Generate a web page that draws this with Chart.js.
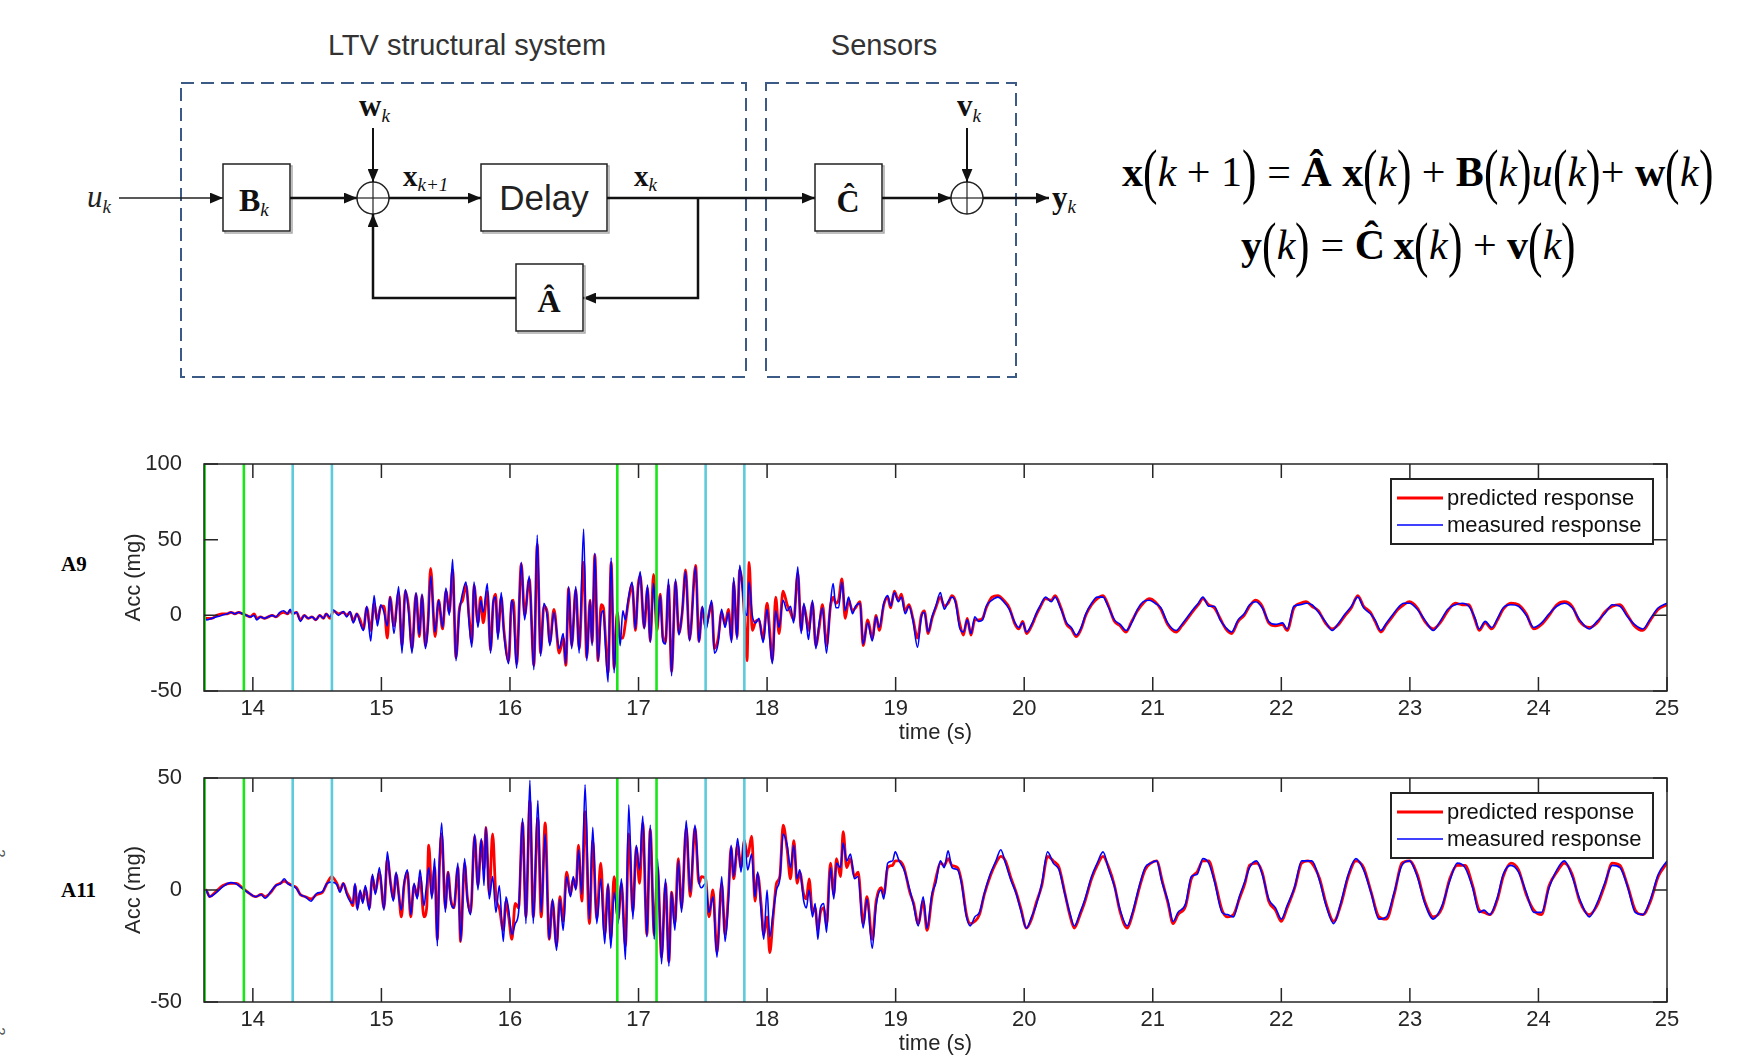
<!DOCTYPE html>
<html>
<head>
<meta charset="utf-8">
<script src="https://cdn.jsdelivr.net/npm/chart.js@4.4.1/dist/chart.umd.min.js"></script>
<style>
  body { margin: 0; background: #fff; width: 1750px; height: 1059px; position: relative; overflow: hidden; }
  canvas { position: absolute; left: 0; }
  .eq { position: absolute; font-family: 'Liberation Serif', 'Times New Roman', serif; font-size: 42px; white-space: nowrap; line-height: 60px; color: #000; }
  .eq .p { font-size: 62px; display: inline-block; transform: scaleX(0.7); vertical-align: -6px; margin: 0 -3px; }
  .row { position: absolute; font-family: 'Liberation Serif', 'Times New Roman', serif; font-weight: bold; font-size: 21px; }
  .stray { position: absolute; font-family: 'Liberation Sans', Arial, sans-serif; font-size: 15px; color: #555; transform: rotate(90deg); }
</style>
</head>
<body>

<svg width="1750" height="400" style="position:absolute;left:0;top:0" font-family="'Liberation Serif','Times New Roman',serif">
  <defs>
    <marker id="ah" viewBox="0 0 12 10" refX="12" refY="5" markerWidth="13" markerHeight="11" orient="auto" markerUnits="userSpaceOnUse">
      <path d="M0,0 L12,5 L0,10 z" fill="#111"/>
    </marker>
  </defs>
  <text x="467" y="55" text-anchor="middle" font-family="'Liberation Sans',Arial,sans-serif" font-size="29" fill="#333">LTV structural system</text>
  <text x="884" y="55" text-anchor="middle" font-family="'Liberation Sans',Arial,sans-serif" font-size="29" fill="#333">Sensors</text>

  <rect x="181" y="83" width="565" height="294" fill="none" stroke="#3b5a85" stroke-width="2" stroke-dasharray="13 7"/>
  <rect x="766" y="83" width="250" height="294" fill="none" stroke="#3b5a85" stroke-width="2" stroke-dasharray="13 7"/>

  <!-- u_k into B_k -->
  <text x="87" y="207" font-size="31" font-style="italic" fill="#222">u<tspan font-size="19" dy="6">k</tspan></text>
  <line x1="119" y1="198" x2="223" y2="198" stroke="#222" stroke-width="1.5" marker-end="url(#ah)"/>
  <rect x="225" y="166" width="67" height="67" fill="none" stroke="#aaa" stroke-width="1.5"/>
  <rect x="223" y="164" width="67" height="67" fill="#fff" stroke="#222" stroke-width="1.5"/>
  <text x="239" y="211" font-size="32" font-weight="bold" fill="#111">B<tspan font-size="19" font-weight="normal" font-style="italic" dy="5">k</tspan></text>
  <line x1="290" y1="198" x2="357" y2="198" stroke="#111" stroke-width="2.5" marker-end="url(#ah)"/>

  <!-- first summing junction -->
  <circle cx="373" cy="198" r="16" fill="#fff" stroke="#222" stroke-width="1.5"/>
  <line x1="373" y1="182" x2="373" y2="214" stroke="#222" stroke-width="1.2"/>
  <line x1="357" y1="198" x2="389" y2="198" stroke="#222" stroke-width="1.2"/>
  <text x="359" y="116" font-size="31" font-weight="bold" fill="#111">w<tspan font-size="19" font-weight="normal" font-style="italic" dy="6">k</tspan></text>
  <line x1="373" y1="128" x2="373" y2="182" stroke="#111" stroke-width="2" marker-end="url(#ah)"/>
  <text x="403" y="186" font-size="29" font-weight="bold" fill="#111">x<tspan font-size="19" font-weight="normal" font-style="italic" dy="5">k+1</tspan></text>
  <line x1="389" y1="198" x2="481" y2="198" stroke="#111" stroke-width="2.5" marker-end="url(#ah)"/>

  <!-- delay -->
  <rect x="483" y="166" width="126" height="67" fill="none" stroke="#aaa" stroke-width="1.5"/>
  <rect x="481" y="164" width="126" height="67" fill="#fff" stroke="#222" stroke-width="1.5"/>
  <text x="544" y="210" text-anchor="middle" font-family="'Liberation Sans',Arial,sans-serif" font-size="35" fill="#222">Delay</text>
  <text x="634" y="186" font-size="29" font-weight="bold" fill="#111">x<tspan font-size="19" font-weight="normal" font-style="italic" dy="5">k</tspan></text>
  <line x1="607" y1="198" x2="815" y2="198" stroke="#111" stroke-width="2.5" marker-end="url(#ah)"/>

  <!-- feedback through A -->
  <polyline points="698,198 698,298 583,298" fill="none" stroke="#111" stroke-width="2.5" marker-end="url(#ah)"/>
  <rect x="518" y="266" width="67" height="67" fill="none" stroke="#aaa" stroke-width="1.5"/>
  <rect x="516" y="264" width="67" height="67" fill="#fff" stroke="#222" stroke-width="1.5"/>
  <text x="549" y="312" text-anchor="middle" font-size="32" font-weight="bold" fill="#111">Â</text>
  <polyline points="516,298 373,298 373,214" fill="none" stroke="#111" stroke-width="2.5" marker-end="url(#ah)"/>

  <!-- sensors -->
  <rect x="817" y="166" width="67" height="67" fill="none" stroke="#aaa" stroke-width="1.5"/>
  <rect x="815" y="164" width="67" height="67" fill="#fff" stroke="#222" stroke-width="1.5"/>
  <text x="848" y="212" text-anchor="middle" font-size="32" font-weight="bold" fill="#111">Ĉ</text>
  <line x1="882" y1="198" x2="951" y2="198" stroke="#111" stroke-width="2.5" marker-end="url(#ah)"/>
  <circle cx="967" cy="198" r="16" fill="#fff" stroke="#222" stroke-width="1.5"/>
  <line x1="967" y1="182" x2="967" y2="214" stroke="#222" stroke-width="1.2"/>
  <line x1="951" y1="198" x2="983" y2="198" stroke="#222" stroke-width="1.2"/>
  <text x="957" y="116" font-size="31" font-weight="bold" fill="#111">v<tspan font-size="19" font-weight="normal" font-style="italic" dy="6">k</tspan></text>
  <line x1="967" y1="128" x2="967" y2="182" stroke="#111" stroke-width="2" marker-end="url(#ah)"/>
  <line x1="983" y1="198" x2="1049" y2="198" stroke="#111" stroke-width="2.5" marker-end="url(#ah)"/>
  <text x="1052" y="208" font-size="31" font-weight="bold" fill="#111">y<tspan font-size="19" font-weight="normal" font-style="italic" dy="5">k</tspan></text>
</svg>

<div class="eq" style="left:1122px;top:141px"><b>x</b><span class="p">(</span><i>k</i> + 1<span class="p">)</span> = <b>Â</b> <b>x</b><span class="p">(</span><i>k</i><span class="p">)</span> + <b>B</b><span class="p">(</span><i>k</i><span class="p">)</span><i>u</i><span class="p">(</span><i>k</i><span class="p">)</span>+ <b>w</b><span class="p">(</span><i>k</i><span class="p">)</span></div>
<div class="eq" style="left:1241px;top:214px"><b>y</b><span class="p">(</span><i>k</i><span class="p">)</span> = <b>Ĉ</b>&#8201;<b>x</b><span class="p">(</span><i>k</i><span class="p">)</span> + <b>v</b><span class="p">(</span><i>k</i><span class="p">)</span></div>

<div class="row" style="left:61px;top:552px">A9</div>
<div class="row" style="left:61px;top:878px">A11</div>
<div class="stray" style="left:-4px;top:845px">2</div>
<div class="stray" style="left:-4px;top:1023px">2</div>

<canvas id="chartA9" width="1700" height="298" style="top:450px"></canvas>
<canvas id="chartA11" width="1700" height="295" style="top:764px"></canvas>

<script>
// ---- data ----
const xTickValues = [14, 15, 16, 17, 18, 19, 20, 21, 22, 23, 24, 25]
const greenMarkers = [13.625, 13.93, 16.835, 17.14]
const cyanMarkers = [14.31, 14.615, 17.522, 17.823]
const seriesNames = ['predicted response', 'measured response']

const a9YTicks = [-50, 0, 50, 100]
const a9Time = [
  13.62, 13.64, 13.68, 13.72, 13.76, 13.80, 13.83, 13.86, 13.89, 13.92,
  13.95, 13.98, 14.01, 14.03, 14.06, 14.09, 14.12, 14.15, 14.18, 14.21,
  14.24, 14.27, 14.29, 14.31, 14.34, 14.37, 14.40, 14.43, 14.46, 14.49,
  14.52, 14.55, 14.57, 14.60, 14.627, 14.665, 14.704, 14.73, 14.756, 14.782,
  14.808, 14.834, 14.86, 14.886, 14.917, 14.943, 14.969, 14.995, 15.02, 15.046,
  15.067, 15.098, 15.134, 15.16, 15.186, 15.212, 15.238, 15.269, 15.295, 15.316,
  15.342, 15.362, 15.383, 15.417, 15.445, 15.476, 15.502, 15.528, 15.554, 15.58,
  15.606, 15.632, 15.658, 15.684, 15.704, 15.72, 15.751, 15.772, 15.792, 15.824,
  15.849, 15.87, 15.888, 15.906, 15.932, 15.953, 15.99, 16.01, 16.026, 16.052,
  16.088, 16.114, 16.15, 16.186, 16.212, 16.238, 16.264, 16.29, 16.31, 16.342,
  16.383, 16.414, 16.435, 16.456, 16.48, 16.512, 16.538, 16.573, 16.597, 16.623,
  16.639, 16.66, 16.685, 16.709, 16.727, 16.743, 16.763, 16.787, 16.81, 16.834,
  16.857, 16.878, 16.898, 16.919, 16.95, 16.976, 16.997, 17.013, 17.044, 17.07,
  17.091, 17.117, 17.143, 17.169, 17.189, 17.21, 17.233, 17.257, 17.288, 17.314,
  17.34, 17.366, 17.397, 17.444, 17.47, 17.496, 17.522, 17.543, 17.569, 17.59,
  17.62, 17.646, 17.673, 17.699, 17.724, 17.74, 17.766, 17.787, 17.808, 17.823,
  17.844, 17.86, 17.885, 17.911, 17.937, 17.969, 18.0, 18.02, 18.041, 18.067,
  18.093, 18.124, 18.156, 18.182, 18.207, 18.239, 18.265, 18.286, 18.306, 18.322,
  18.353, 18.379, 18.405, 18.431, 18.462, 18.493, 18.514, 18.535, 18.556, 18.582,
  18.608, 18.634, 18.664, 18.688, 18.723, 18.747, 18.783, 18.818, 18.848, 18.872,
  18.908, 18.938, 18.961, 18.99, 19.021, 19.045, 19.074, 19.104, 19.134, 19.17,
  19.2, 19.223, 19.253, 19.283, 19.312, 19.348, 19.378, 19.408, 19.438, 19.467,
  19.497, 19.527, 19.557, 19.586, 19.616, 19.646, 19.676, 19.705, 19.75, 19.795,
  19.84, 19.884, 19.929, 19.958, 19.988, 20.018, 20.063, 20.092, 20.122, 20.167,
  20.211, 20.24, 20.286, 20.33, 20.366, 20.405, 20.443, 20.479, 20.524, 20.568,
  20.613, 20.652, 20.702, 20.747, 20.792, 20.836, 20.881, 20.926, 20.973, 21.018,
  21.063, 21.116, 21.182, 21.226, 21.271, 21.315, 21.354, 21.39, 21.435, 21.479,
  21.524, 21.568, 21.613, 21.664, 21.711, 21.753, 21.801, 21.851, 21.902, 21.955,
  22.009, 22.045, 22.098, 22.149, 22.193, 22.238, 22.289, 22.342, 22.396, 22.446,
  22.497, 22.545, 22.595, 22.64, 22.693, 22.729, 22.774, 22.818, 22.863, 22.908,
  22.952, 22.997, 23.057, 23.116, 23.182, 23.235, 23.295, 23.354, 23.408, 23.458,
  23.503, 23.539, 23.586, 23.637, 23.682, 23.726, 23.786, 23.845, 23.905, 23.964,
  24.024, 24.083, 24.143, 24.202, 24.262, 24.321, 24.396, 24.455, 24.515, 24.574,
  24.634, 24.693, 24.747, 24.812, 24.872, 24.932, 25.0
]
const a9Measured = [
  -1, -3, -2, -1, 0, 1, 2, 1, 2, 1,
  0, -1, 0, -3, -1, -2, -1, 0, -1, 2,
  3, 1, 4, 1, 2, -4, 0, -2, -1, -3,
  0, -2, 1, -1, 3.5, 0, 2.5, -1, 2.5, -5,
  1, -5, -10, 6, -17, 13, -7, 7, 2, -7,
  12, -12, 19, -25, 17, 2, -25, 15, -13, 14,
  -22, -8, 26, -11, 10, -8, 18, 0, 37, -30,
  2, 15, 22, -7, -21, 22, -8, 10, 2, 21,
  -25, 9, 12, -16, 15, -12, -32, 10, 5, -35,
  35, -3, 26, -36, 53, -27, 8, -1, -20, 2,
  -22, -12, -32, 19, -22, 19, -25, 57, -30, 10,
  -20, 41, -30, 0, 3, -20, -44, 38, -38, 4,
  -20, 3, -3, 10, 22, -9, 18, 29, -9, 20,
  -18, 21, -9, 13, -17, -19, 24, -40, 24, -13,
  3, 29, -17, 32, -18, 6, -10, -2, 10, -25,
  -18, 4, -8, 2, -18, 25, -16, 33, 18, 5,
  0, 22, 0, -5, -2, -18, 4, -15, -32, 3,
  -8, 10, 3, 6, -5, 32, -12, 8, -5, -16,
  10, -22, -5, 5, -25, 8, 21, 5, 5, 22,
  3, 12, 1, 6, 8, -19, -5, -17, -1, -8,
  8, 13, 6, 15, 9, 12, 1, 6, -3, -21,
  -1, 2, -11, -1, 6, 15, 4, 9, 12, 8,
  -8, -11, -3, -12, -1, -4, -3, 6, 10, 12,
  9, 4, -5, -8, -5, -11, -5, 1, 6, 12,
  9, 12, 4, -5, -8, -13, -8, 1, 8, 12,
  12, 6, -3, -6, -10, -5, 4, 9, 10, 8,
  5, -5, -10, -6, -1, 4, 8, 12, 6, 6,
  -3, -8, -11, -3, 1, 7, 9, 5, -4, -6,
  -5, -9, 6, 7, 8, 7, 2, -4, -10, -5,
  1, 6, 12, 5, 1, -3, -10, -5, 0, 5,
  8, 8, 4, -3, -10, -4, 4, 7, 8, 6,
  -1, -9, -4, -8, -2, 5, 7, 6, 0, -8,
  -5, 1, 6, 8, 5, -3, -9, -4, 1, 7,
  6, -1, -6, -9, -2, 5, 8
]
const a9Predicted = [
  -1, -2, -2, 0, 1, 1, 2, 1, 2, 1,
  0, -1, 1, -2, -1, -2, -1, 0, -1, 1,
  2, 1, 3, 1, 2, -3, 0, -2, -1, -3,
  0, -2, 1, -2, 3, 1, 2, 0, 2, -4,
  1, -3, -9, 5, -10, 8, -4, 6, 6, -15,
  12, -7, 15, -20, 16, 5, -22, 14, -14, 13,
  -20, -5, 31, -14, 10, -9, 16, 2, 30, -28,
  4, 10, 20, -3, -18, 20, -5, 12, -5, 16,
  -23, 8, 14, -12, 12, -10, -30, 5, 10, -32,
  34, 0, 24, -33, 47, -25, 6, 2, -18, 4,
  -25, -15, -33, 18, -20, 17, -22, 35, -28, 10,
  -18, 40, -30, 7, 5, -15, -38, 35, -35, 2,
  -15, -15, -5, 8, 20, -10, 20, 26, -8, 18,
  -17, 27, -10, 14, -14, -18, 20, -37, 22, -12,
  2, 30, -16, 33, -17, 5, -8, -1, 8, -22,
  -15, 2, -6, 4, -16, 22, -14, 30, 20, 0,
  -30, 35, -10, -4, -3, -16, 8, -10, -30, 12,
  -12, 16, 7, 2, -3, 28, -10, 6, -2, -10,
  8, -20, -8, 7, -20, 6, 12, 8, 10, 24,
  -2, 10, 3, 5, 9, -20, -3, -15, 0, -10,
  7, 12, 5, 16, 10, 14, 3, 7, -2, -15,
  0, 3, -12, -2, 5, 12, 6, 8, 13, 9,
  -5, -13, -2, -13, -3, -3, -2, 5, 12, 13,
  10, 5, -6, -9, -4, -12, -6, 0, 5, 11,
  10, 13, 5, -6, -9, -14, -9, 0, 7, 11,
  13, 7, -4, -7, -11, -4, 3, 8, 11, 9,
  4, -6, -11, -7, -2, 3, 7, 11, 7, 5,
  -2, -9, -12, -4, 0, 6, 10, 6, -5, -7,
  -6, -10, 5, 8, 9, 6, 3, -5, -9, -6,
  0, 5, 13, 6, 2, -4, -11, -6, -1, 4,
  7, 9, 5, -4, -9, -5, 3, 8, 7, 7,
  -2, -10, -5, -9, -3, 4, 8, 7, 1, -9,
  -6, 0, 7, 9, 6, -4, -8, -5, 2, 6,
  7, 0, -7, -10, -3, 4, 7
]

const a11YTicks = [-50, 0, 50]
const a11Time = [
  13.62, 13.634, 13.664, 13.708, 13.768, 13.827, 13.872, 13.917, 13.961, 14.021,
  14.065, 14.095, 14.14, 14.179, 14.214, 14.244, 14.274, 14.304, 14.339, 14.369,
  14.408, 14.452, 14.497, 14.542, 14.577, 14.614, 14.653, 14.678, 14.704, 14.73,
  14.756, 14.777, 14.795, 14.813, 14.834, 14.855, 14.875, 14.906, 14.93, 14.953,
  14.984, 15.02, 15.046, 15.072, 15.093, 15.114, 15.134, 15.155, 15.176, 15.202,
  15.228, 15.254, 15.279, 15.3, 15.331, 15.352, 15.368, 15.393, 15.414, 15.435,
  15.451, 15.469, 15.497, 15.518, 15.539, 15.564, 15.595, 15.616, 15.647, 15.668,
  15.694, 15.725, 15.751, 15.777, 15.798, 15.813, 15.839, 15.865, 15.891, 15.917,
  15.948, 15.969, 15.99, 16.015, 16.041, 16.067, 16.098, 16.124, 16.155, 16.181,
  16.217, 16.243, 16.274, 16.305, 16.331, 16.362, 16.388, 16.414, 16.44, 16.471,
  16.492, 16.513, 16.533, 16.559, 16.584, 16.618, 16.644, 16.675, 16.706, 16.737,
  16.763, 16.784, 16.81, 16.841, 16.867, 16.898, 16.924, 16.956, 16.982, 17.008,
  17.033, 17.065, 17.091, 17.122, 17.148, 17.179, 17.21, 17.236, 17.257, 17.283,
  17.309, 17.335, 17.371, 17.402, 17.439, 17.47, 17.49, 17.522, 17.548, 17.579,
  17.61, 17.647, 17.673, 17.699, 17.72, 17.74, 17.771, 17.797, 17.823, 17.849,
  17.88, 17.906, 17.927, 17.953, 17.974, 18.0, 18.021, 18.047, 18.073, 18.099,
  18.125, 18.156, 18.182, 18.208, 18.234, 18.254, 18.285, 18.306, 18.327, 18.353,
  18.374, 18.395, 18.415, 18.441, 18.462, 18.493, 18.519, 18.54, 18.571, 18.592,
  18.619, 18.649, 18.679, 18.708, 18.747, 18.777, 18.818, 18.848, 18.887, 18.908,
  18.938, 18.976, 18.997, 19.027, 19.065, 19.11, 19.14, 19.176, 19.214, 19.244,
  19.283, 19.312, 19.348, 19.378, 19.408, 19.438, 19.482, 19.512, 19.551, 19.58,
  19.616, 19.652, 19.69, 19.735, 19.78, 19.818, 19.854, 19.899, 19.937, 19.973,
  20.018, 20.057, 20.092, 20.137, 20.182, 20.226, 20.271, 20.315, 20.354, 20.39,
  20.435, 20.473, 20.524, 20.568, 20.613, 20.658, 20.702, 20.747, 20.801, 20.842,
  20.896, 20.94, 20.985, 21.03, 21.074, 21.119, 21.158, 21.196, 21.256, 21.3,
  21.345, 21.39, 21.435, 21.479, 21.539, 21.583, 21.628, 21.673, 21.717, 21.753,
  21.807, 21.851, 21.902, 21.955, 22.0, 22.045, 22.104, 22.158, 22.208, 22.238,
  22.298, 22.348, 22.408, 22.461, 22.521, 22.58, 22.64, 22.699, 22.759, 22.818,
  22.878, 22.938, 22.997, 23.057, 23.116, 23.182, 23.25, 23.31, 23.369, 23.429,
  23.488, 23.539, 23.577, 23.622, 23.682, 23.726, 23.786, 23.845, 23.905, 23.964,
  24.024, 24.083, 24.143, 24.202, 24.262, 24.321, 24.396, 24.455, 24.515, 24.574,
  24.634, 24.693, 24.753, 24.812, 24.872, 24.932, 25.0
]
const a11Measured = [
  -1, 0, -3, -1.5, 1.5, 3.3, 2.7, 0.7, -1, -3,
  -2, -3.7, -0.7, 2, 2.7, 5, 2.7, 2, 0.7, -2,
  -3, -5, -1.5, -0.7, 3, 3.5, 2.5, -1, 3, -2,
  -5, -6, 3, -9, 0, -6, 2, -9, 7, -2,
  10, -9, 17, 2, -5, 8, -2, -9, 3, 9,
  -11, 3, -4, 9, -7, 3, 10, -4, 14, -25,
  12, 30, -10, 8, -5, -8, 12, -23, 14, -4,
  -11, 25, 0, 23, 2, 28, -4, 6, -10, 2,
  -23, -3, -9, -20, -15, -10, 32, -15, 49, -15,
  40, -10, 25, -22, -4, -27, -4, -18, 6, -3,
  6, 0, 18, -2, 47, -13, 28, -15, 5, -24,
  3, -26, -1, -15, 5, -31, 38, -13, 20, 9,
  33, -21, 29, -22, 14, -33, 5, -34, -1, -18,
  13, -10, 31, -1, 29, 4, 1, 3, -10, -3,
  -30, 6, -23, -5, 20, 6, 23, 8, 23, 9,
  16, -3, 8, -9, -22, 0, -21, -10, 0, 5,
  25, 20, 10, 20, 5, 9, -5, -8, 0, -12,
  -6, -22, -8, -6, -19, 10, -4, 12, 10, 21,
  13, 16, 5, 6, -17, -4, -26, -7, 0, -4,
  12, 13, 17, 13, 9, 0, -7, -16, -3, -17,
  -1.5, 3, 13, 10, 17.5, 10, 9, 3, -12, -16,
  -12, -10, -1.5, 7, 13, 18, 12, 4, -1.5, -9,
  -17, -12, -7, 3, 17, 12, 9, -1.5, -10, -16,
  -10, -4, 6, 12, 17, 9, 1.5, -9, -16, -10,
  2, 10, 12, 13, 3, -5, -14, -10, -6, 6,
  7, 14, 12, 4, -10, -11, -12, -3, 4, 10,
  13, 7, -4, -8, -13, -7, 1.5, 13, 13, 13,
  4, -7, -15, -6, 7, 14, 9, -1.5, -13, -12,
  -1, 11, 13, 6, -6, -13, -7, 4, 12, 10,
  1, -10, -9, -11, -3, 7, 11, 8, -1, -10,
  -10, 1, 9, 13, 6, -4, -12, -6, 3, 11,
  10, 1.5, -10, -11, -4, 7, 13
]
const a11Predicted = [
  -1, 0, -3, -1, 2, 3, 3, 1, -1, -3,
  -2, -3, -1, 2, 3, 4, 3, 2, 1, -2,
  -3, -4, -2, -1, 3, 6, 3, 0, 3, -1,
  -4, -7, 2, -8, -1, -5, 1, -8, 6, -1,
  8, -8, 14, 3, -4, 7, -1, -12, 2, 8,
  -12, 2, -3, 6, -12, -8, 20, -2, 10, -22,
  10, 25, -8, 8, -4, -8, 10, -23, 12, -3,
  -10, 24, 2, 22, 9, 28, -2, 25, -3, -8,
  -18, -5, -12, -22, -6, -8, 30, -12, 40, -12,
  32, -12, 30, -22, -5, -25, -3, -14, 8, -2,
  5, 1, 20, -5, 35, -15, 22, -13, 12, -20,
  2, -22, 6, -13, 3, -25, 25, -10, 19, 3,
  30, -20, 27, -20, 10, -30, 3, -32, -1, -15,
  14, -8, 28, -3, 28, 3, 6, 5, -12, 0,
  -28, 3, -20, -2, 19, 5, 20, 10, 22, 15,
  24, -5, 7, -6, -20, -12, -28, -12, 3, 6,
  29, 18, 5, 22, 3, 8, -2, -4, 5, -10,
  -8, -18, -10, -8, -16, 12, -2, 14, 6, 26,
  10, 14, 6, 8, -15, -3, -22, -5, 1, -2,
  10, 11, 13, 13, 10, -1, -6, -15, -5, -18,
  -3, 5, 12, 11, 14, 11, 10, 4, -11, -15,
  -14, -11, -2, 6, 12, 15, 13, 5, -1, -8,
  -17, -13, -6, 2, 15, 13, 10, -1, -11, -17,
  -11, -5, 5, 11, 15, 10, 2, -10, -17, -11,
  1, 9, 12, 13, 4, -6, -15, -11, -7, 5,
  8, 13, 13, 5, -9, -12, -11, -4, 3, 11,
  12, 8, -5, -9, -14, -8, 1, 12, 13, 12,
  5, -6, -14, -7, 6, 13, 10, -1, -12, -13,
  -2, 12, 13, 7, -5, -12, -8, 5, 11, 11,
  2, -9, -10, -11, -4, 6, 12, 9, -2, -9,
  -11, 2, 8, 12, 7, -5, -11, -7, 2, 12,
  11, 2, -9, -11, -5, 6, 12
]

// ---- drawing ----
const axisFont = { family: "'Liberation Sans', Arial, sans-serif", size: 22 }
const axisColor = '#262626'

function toPoints(times, values) {
  if (times.length !== values.length) console.warn('length mismatch', times.length, values.length)
  return times.map((t, i) => ({ x: t, y: values[i] }))
}

function markerDataset(t, color, yMin, yMax) {
  return {
    data: [{ x: t, y: yMin }, { x: t, y: yMax }],
    borderColor: color,
    borderWidth: 2.6,
    pointRadius: 0,
    tension: 0,
    order: 0
  }
}

// box + inward ticks like the original plot
const frameTicks = {
  id: 'frameTicks',
  afterDraw(chart) {
    const { ctx, chartArea: a, scales } = chart
    const len = 14
    ctx.save()
    ctx.strokeStyle = axisColor
    ctx.lineWidth = 1.5
    ctx.beginPath()
    xTickValues.forEach(v => {
      const px = scales.x.getPixelForValue(v)
      ctx.moveTo(px, a.bottom); ctx.lineTo(px, a.bottom - len)
      ctx.moveTo(px, a.top); ctx.lineTo(px, a.top + len)
    })
    chart.options.yTickList.forEach(v => {
      const py = scales.y.getPixelForValue(v)
      ctx.moveTo(a.left, py); ctx.lineTo(a.left + len, py)
      ctx.moveTo(a.right, py); ctx.lineTo(a.right - len, py)
    })
    ctx.stroke()
    ctx.strokeRect(a.left, a.top, a.right - a.left, a.bottom - a.top)
    ctx.restore()
  }
}

// boxed legend in the upper right of the axes
const boxLegend = {
  id: 'boxLegend',
  afterDraw(chart) {
    const { ctx, chartArea: a } = chart
    const items = chart.data.datasets.filter(d => d.label)
    const w = 262, h = 65
    const x = a.right - 14 - w, y = a.top + 15
    ctx.save()
    ctx.fillStyle = '#fff'
    ctx.fillRect(x, y, w, h)
    ctx.strokeStyle = '#222'
    ctx.lineWidth = 2
    ctx.strokeRect(x, y, w, h)
    ctx.font = "22px 'Liberation Sans', Arial, sans-serif"
    ctx.textBaseline = 'middle'
    items.forEach((d, i) => {
      const ly = y + 19 + i * 27
      ctx.strokeStyle = d.borderColor
      ctx.lineWidth = d.borderWidth
      ctx.beginPath()
      ctx.moveTo(x + 6, ly); ctx.lineTo(x + 52, ly)
      ctx.stroke()
      ctx.fillStyle = '#111'
      ctx.fillText(d.label, x + 56, ly + 1)
    })
    ctx.restore()
  }
}

function buildChart(canvasId, times, measured, predicted, yTicks) {
  const yMin = yTicks[0], yMax = yTicks[yTicks.length - 1]
  const datasets = [
    {
      label: seriesNames[0],
      data: toPoints(times, predicted),
      borderColor: '#ff0000',
      borderWidth: 2.8,
      pointRadius: 0,
      cubicInterpolationMode: 'monotone',
      order: 2
    },
    {
      label: seriesNames[1],
      data: toPoints(times, measured),
      borderColor: '#0000ff',
      borderWidth: 1.6,
      pointRadius: 0,
      cubicInterpolationMode: 'monotone',
      order: 1
    }
  ]
  greenMarkers.forEach(t => datasets.push(markerDataset(t, '#19e619', yMin, yMax)))
  cyanMarkers.forEach(t => datasets.push(markerDataset(t, '#5ccbdb', yMin, yMax)))

  return new Chart(document.getElementById(canvasId), {
    type: 'line',
    data: { datasets },
    options: {
      responsive: false,
      animation: false,
      yTickList: yTicks,
      layout: { padding: { left: 0, right: 33, top: 14, bottom: 0 } },
      plugins: { legend: { display: false }, tooltip: { enabled: false } },
      scales: {
        x: {
          type: 'linear',
          min: 13.62,
          max: 25,
          grid: { display: false, drawTicks: false },
          border: { display: false },
          afterBuildTicks: s => { s.ticks = xTickValues.map(v => ({ value: v })) },
          afterFit: s => { s.height = 57; s.paddingLeft = 0; s.paddingRight = 0 },
          ticks: { font: axisFont, color: axisColor, padding: 5, maxRotation: 0, autoSkip: false },
          title: { display: true, text: 'time (s)', font: axisFont, color: axisColor, padding: { top: 0, bottom: 2 } }
        },
        y: {
          min: yMin,
          max: yMax,
          grid: { display: false, drawTicks: false },
          border: { display: false },
          afterBuildTicks: s => { s.ticks = yTicks.map(v => ({ value: v })) },
          afterFit: s => { s.width = 204; s.paddingTop = 0; s.paddingBottom = 0 },
          ticks: { font: axisFont, color: axisColor, padding: 22 },
          title: { display: true, text: 'Acc (mg)', font: axisFont, color: axisColor, padding: { top: 121, bottom: 0 } }
        }
      }
    },
    plugins: [frameTicks, boxLegend]
  })
}

buildChart('chartA9', a9Time, a9Measured, a9Predicted, a9YTicks)
buildChart('chartA11', a11Time, a11Measured, a11Predicted, a11YTicks)
</script>
</body>
</html>
